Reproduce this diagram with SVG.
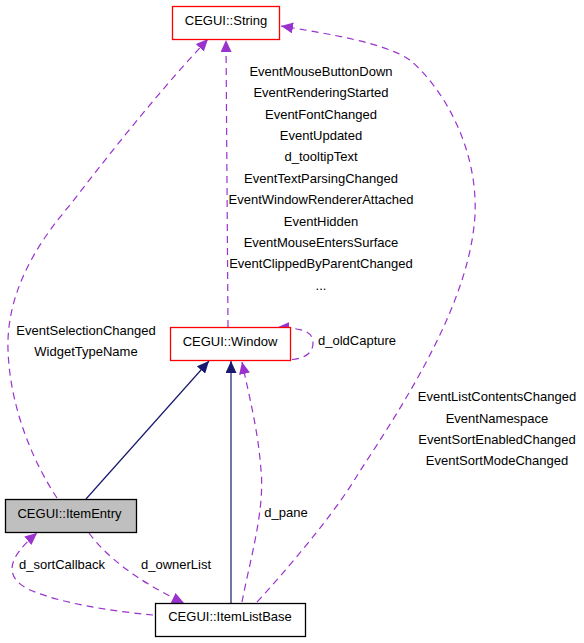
<svg xmlns="http://www.w3.org/2000/svg" width="584" height="643" viewBox="0 0 584 643">
<style>
text{font-family:"Liberation Sans",Arial,sans-serif;font-size:13px;fill:#000;text-anchor:middle}
.dep{fill:none;stroke:#9a32cd;stroke-width:1.2;stroke-dasharray:7,5}
.inh{fill:none;stroke:#191970;stroke-width:1.2}
.red{fill:#fff;stroke:#ff0000;stroke-width:1.3}
.blk{fill:#fff;stroke:#000;stroke-width:1.3}
</style>
<defs>
<marker id="ap" markerUnits="userSpaceOnUse" markerWidth="13" markerHeight="11" refX="12" refY="5.5" orient="auto"><path d="M0,0 L12,5.5 L0,11 z" fill="#9a32cd"/></marker>
<marker id="an" markerUnits="userSpaceOnUse" markerWidth="13" markerHeight="11" refX="12" refY="5.5" orient="auto"><path d="M0,0 L12,5.5 L0,11 z" fill="#191970"/></marker>
</defs>
<rect width="584" height="643" fill="#fff"/>
<g id="connectors">
<path class="dep" d="M57,498 C35,465 10,410 8,350 C6,290 40,240 70,205 C120,140 165,85 208,39" marker-end="url(#ap)"/>
<path class="dep" d="M228,327 L226,40" marker-end="url(#ap)"/>
<path class="dep" d="M257,602 C300,555 340,505 358,474 C410,395 470,300 475,215 C478,150 445,90 410,60 C385,43 330,34 281,26" marker-end="url(#ap)"/>
<path class="dep" d="M280,359 C292,361 313,359 313,343 C313,331 302,328 277,327.5" marker-end="url(#ap)"/>
<path class="inh" d="M86,499 L209,361" marker-end="url(#an)"/>
<path class="inh" d="M231,603 L231,361" marker-end="url(#an)"/>
<path class="dep" d="M242,602 C250,560 265,510 261,470 C258,430 250,400 242,362" marker-end="url(#ap)"/>
<path class="dep" d="M153,615 C110,611 60,603 30,590 C5,578 5,560 37,533" marker-end="url(#ap)"/>
<path class="dep" d="M89,533 C105,555 135,580 184,603" marker-end="url(#ap)"/>
</g>
<g id="labels">
<text x="321" y="76">EventMouseButtonDown</text>
<text x="321" y="97.4">EventRenderingStarted</text>
<text x="321" y="118.7">EventFontChanged</text>
<text x="321" y="140">EventUpdated</text>
<text x="321" y="161.4">d_tooltipText</text>
<text x="321" y="182.8">EventTextParsingChanged</text>
<text x="321" y="204.1">EventWindowRendererAttached</text>
<text x="321" y="225.5">EventHidden</text>
<text x="321" y="246.8">EventMouseEntersSurface</text>
<text x="321" y="268.2">EventClippedByParentChanged</text>
<text x="321" y="289.5">...</text>
<text x="86" y="335">EventSelectionChanged</text>
<text x="86" y="356.3">WidgetTypeName</text>
<text x="357" y="345.3">d_oldCapture</text>
<text x="497" y="401.3">EventListContentsChanged</text>
<text x="497" y="422.7">EventNamespace</text>
<text x="497" y="444">EventSortEnabledChanged</text>
<text x="497" y="465.3">EventSortModeChanged</text>
<text x="286" y="517.3">d_pane</text>
<text x="62" y="569">d_sortCallback</text>
<text x="176" y="569">d_ownerList</text>
</g>
<g id="node-string">
<rect class="red" x="172.5" y="6.5" width="107" height="33"/>
<text x="226" y="24.5">CEGUI::String</text>
</g>
<g id="node-window">
<rect class="red" x="170.5" y="327.5" width="120" height="33"/>
<text x="230" y="345.5">CEGUI::Window</text>
</g>
<g id="node-itementry">
<rect x="5.5" y="499.5" width="131" height="33" fill="#bfbfbf" stroke="#000" stroke-width="1.3"/>
<text x="69.5" y="518">CEGUI::ItemEntry</text>
</g>
<g id="node-itemlistbase">
<rect class="blk" x="155.5" y="603.5" width="150" height="33"/>
<text x="230" y="621.3">CEGUI::ItemListBase</text>
</g>
</svg>
